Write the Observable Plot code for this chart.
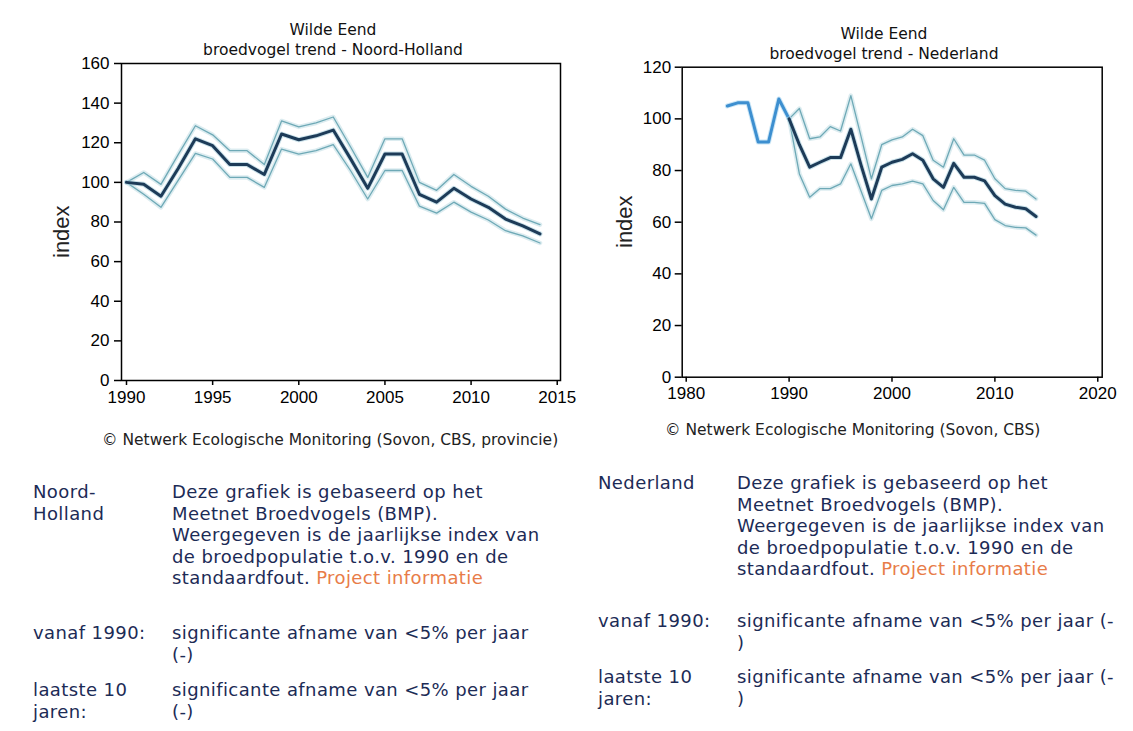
<!DOCTYPE html>
<html>
<head>
<meta charset="utf-8">
<script src="https://cdn.jsdelivr.net/npm/d3@7"></script>
<script src="https://cdn.jsdelivr.net/npm/@observablehq/plot@0.6"></script>
<style>
  html, body { margin:0; padding:0; background:#fff; }
  body { width:1133px; height:731px; position:relative; overflow:hidden; }
  .abs { position:absolute; white-space:nowrap; }
  .title { font-family:"DejaVu Sans", sans-serif; font-size:15.5px; color:#111; text-align:center; line-height:20px; }
  .cap { font-family:"DejaVu Sans", sans-serif; font-size:15.5px; color:#222; line-height:18px; }
  .ylab { font-family:"Liberation Sans", sans-serif; font-size:22px; color:#222; transform:rotate(-90deg); transform-origin:center center; }
  .txt { font-family:"DejaVu Sans", sans-serif; font-size:18px; letter-spacing:0.4px; color:#1c2b56; line-height:21.5px; }
  .link { color:#e87c48; }
</style>
</head>
<body>
<div id="left" class="abs" style="left:0;top:0"></div>
<div id="right" class="abs" style="left:590px;top:0"></div>

<div class="abs title" style="left:183px;top:20px;width:300px">Wilde Eend<br>broedvogel trend - Noord-Holland</div>
<div class="abs title" style="left:734px;top:24px;width:300px">Wilde Eend<br>broedvogel trend - Nederland</div>

<div class="abs ylab" style="left:36px;top:219px;width:52px;height:26px;line-height:26px;text-align:center">index</div>
<div class="abs ylab" style="left:599px;top:209px;width:52px;height:26px;line-height:26px;text-align:center">index</div>

<div class="abs cap" style="left:102px;top:431px">© Netwerk Ecologische Monitoring (Sovon, CBS, provincie)</div>
<div class="abs cap" style="left:665px;top:421px">© Netwerk Ecologische Monitoring (Sovon, CBS)</div>

<div class="abs txt" style="left:33px;top:481px">Noord-<br>Holland</div>
<div class="abs txt" style="left:172px;top:481px">Deze grafiek is gebaseerd op het<br>Meetnet Broedvogels (BMP).<br>Weergegeven is de jaarlijkse index van<br>de broedpopulatie t.o.v. 1990 en de<br>standaardfout. <span class="link">Project informatie</span></div>
<div class="abs txt" style="left:33px;top:622px">vanaf 1990:</div>
<div class="abs txt" style="left:172px;top:622px">significante afname van &lt;5% per jaar<br>(-)</div>
<div class="abs txt" style="left:33px;top:679px">laatste 10<br>jaren:</div>
<div class="abs txt" style="left:172px;top:679px">significante afname van &lt;5% per jaar<br>(-)</div>

<div class="abs txt" style="left:598px;top:472px">Nederland</div>
<div class="abs txt" style="left:737px;top:472px">Deze grafiek is gebaseerd op het<br>Meetnet Broedvogels (BMP).<br>Weergegeven is de jaarlijkse index van<br>de broedpopulatie t.o.v. 1990 en de<br>standaardfout. <span class="link">Project informatie</span></div>
<div class="abs txt" style="left:598px;top:610px">vanaf 1990:</div>
<div class="abs txt" style="left:737px;top:610px">significante afname van &lt;5% per jaar (-<br>)</div>
<div class="abs txt" style="left:598px;top:666px">laatste 10<br>jaren:</div>
<div class="abs txt" style="left:737px;top:666px">significante afname van &lt;5% per jaar (-<br>)</div>

<script>
// ---- Noord-Holland ----
const nhYears = [1990,1991,1992,1993,1994,1995,1996,1997,1998,1999,2000,2001,2002,2003,2004,2005,2006,2007,2008,2009,2010,2011,2012,2013,2014];
const nhIndex = [100,99,93,107,122,118.5,109,109,104,124.4,121.5,123.5,126.4,112,97,114.3,114.3,94,90,97,91.6,87.4,81.5,78,74];
const nhUpper = [100,105,99,114,128.6,124,116,116,109,131,128,130,133,118,102.5,122,122,100,96,104,98,93,86.5,82,78.7];
const nhLower = [100,94,87.4,101,114.6,111.8,102.5,102.5,97.5,116.8,114.3,116,119,106,91.6,106,106,88,84.5,90,85,81,75.6,73,69.4];
const nhXTicks = [1990,1995,2000,2005,2010,2015];
const nhYTicks = [0,20,40,60,80,100,120,140,160];

// ---- Nederland ----
const nlYears = [1984,1985,1986,1987,1988,1989,1990,1991,1992,1993,1994,1995,1996,1997,1998,1999,2000,2001,2002,2003,2004,2005,2006,2007,2008,2009,2010,2011,2012,2013,2014];
const nlIndex = [105,106.2,106.2,91,91,107.7,100,90,81.3,83.2,85,85,96,82,69,81.3,83.2,84.3,86.5,84,76.8,73.5,82.8,77.4,77.4,76,70.3,67,65.8,65.2,62.2];
const nlUpper = [null,null,null,null,null,null,100,104,92.3,93,97,95.3,109,93,76.8,90,91.9,93,96,93.5,84,81.3,92.3,86,86,84,76.8,73,72.3,72,69];
const nlLower = [null,null,null,null,null,null,100,78.7,69.7,73,73,74.8,82.6,72,61.3,72.3,74.2,74.8,75.9,74.8,68.4,64.8,73.5,67.7,67.7,67.3,61,58.7,58,57.8,55];
const nlXTicks = [1980,1990,2000,2010,2020];
const nlYTicks = [0,20,40,60,80,100,120];

const nh = nhYears.map((year,i)=>({year, index:nhIndex[i], upper:nhUpper[i], lower:nhLower[i]}));
const nl = nlYears.map((year,i)=>({year, index:nlIndex[i], upper:nlUpper[i], lower:nlLower[i]}));
const nlEarly = nl.filter(d=>d.year<=1990);
const nlLate = nl.filter(d=>d.year>=1990);

const fmt = d=>String(d);
const style = {fontSize:"17px", fontFamily:"'Liberation Sans', Arial, sans-serif", color:"#000", background:"transparent", overflow:"visible"};
const bandColor = "#6ea9b6", haloColor = "#d3e7ec", mainColor = "#1d3b58";

function bandMarks(data, yKey){
  return [
    Plot.line(data, {x:"year", y:yKey, stroke:haloColor, strokeWidth:4.5, strokeOpacity:0.8}),
    Plot.line(data, {x:"year", y:yKey, stroke:bandColor, strokeWidth:1.3})
  ];
}

const left = Plot.plot({
  width:580, height:420,
  marginLeft:121, marginRight:20, marginTop:63, marginBottom:40,
  x:{domain:[1989.71, 2015.19]},
  y:{domain:[0,160]},
  style,
  marks:[
    ...bandMarks(nh,"upper"),
    ...bandMarks(nh,"lower"),
    Plot.line(nh, {x:"year", y:"index", stroke:"#a9cfdc", strokeWidth:5, strokeOpacity:0.6}),
    Plot.line(nh, {x:"year", y:"index", stroke:mainColor, strokeWidth:3}),
    Plot.frame({stroke:"#000", strokeWidth:1.5}),
    Plot.axisX({ticks:nhXTicks, tickFormat:fmt, tickSize:5, tickPadding:5, label:null, stroke:"#000", strokeWidth:1.5}),
    Plot.axisY({ticks:nhYTicks, tickFormat:fmt, tickSize:7, tickPadding:5, label:null, stroke:"#000", strokeWidth:1.5})
  ]
});
document.getElementById("left").appendChild(left);

const right = Plot.plot({
  width:530, height:420,
  marginLeft:91.7, marginRight:18.3, marginTop:66.7, marginBottom:43.3,
  x:{domain:[1979.61, 2020.43]},
  y:{domain:[0,120]},
  style,
  marks:[
    ...bandMarks(nlLate,"upper"),
    ...bandMarks(nlLate,"lower"),
    Plot.line(nlEarly, {x:"year", y:"index", stroke:"#b5dcf2", strokeWidth:5, strokeOpacity:0.7}),
    Plot.line(nlEarly, {x:"year", y:"index", stroke:"#3d8fd0", strokeWidth:3}),
    Plot.line(nlLate, {x:"year", y:"index", stroke:"#a9cfdc", strokeWidth:5, strokeOpacity:0.6}),
    Plot.line(nlLate, {x:"year", y:"index", stroke:mainColor, strokeWidth:3}),
    Plot.frame({stroke:"#000", strokeWidth:1.5}),
    Plot.axisX({ticks:nlXTicks, tickFormat:fmt, tickSize:5, tickPadding:5, label:null, stroke:"#000", strokeWidth:1.5}),
    Plot.axisY({ticks:nlYTicks, tickFormat:fmt, tickSize:7, tickPadding:4, label:null, stroke:"#000", strokeWidth:1.5})
  ]
});
document.getElementById("right").appendChild(right);
</script>
</body>
</html>
